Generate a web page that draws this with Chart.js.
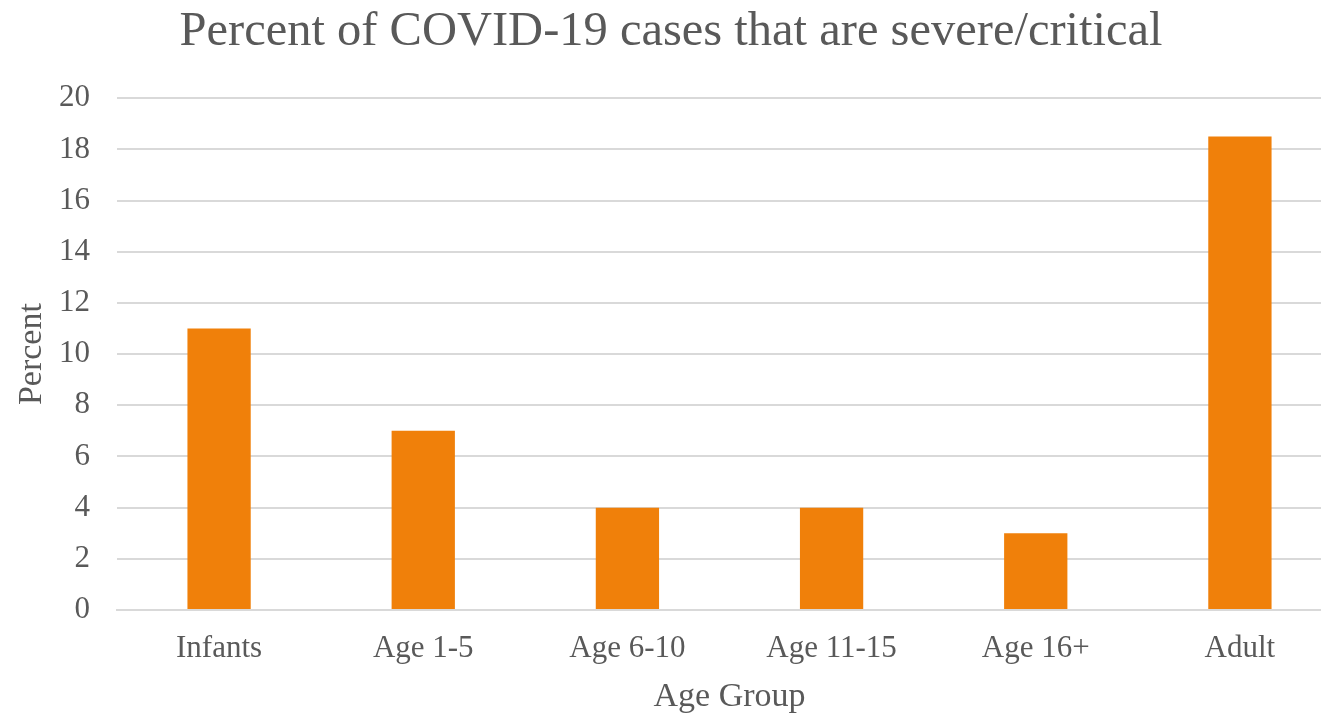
<!DOCTYPE html>
<html>
<head>
<meta charset="utf-8">
<script src="https://cdn.jsdelivr.net/npm/chart.js@4"></script>
<style>
  html, body { margin: 0; padding: 0; background: #fff; overflow: hidden; }
</style>
</head>
<body>
<canvas id="chart" width="1342" height="714"></canvas>
<script>
const ageGroups = ['Infants', 'Age 1-5', 'Age 6-10', 'Age 11-15', 'Age 16+', 'Adult'];
const severePercent = [11, 7, 4, 4, 3, 18.5];

const FONT = "'Liberation Serif', 'Times New Roman', serif";
const TEXT = '#595959';
const GRID = '#d9d9d9';

const ctx = document.getElementById('chart').getContext('2d');
new Chart(ctx, {
  type: 'bar',
  data: {
    labels: ageGroups,
    datasets: [{
      data: severePercent,
      backgroundColor: '#f0800a',
      barPercentage: 0.31,
      categoryPercentage: 1
    }]
  },
  options: {
    responsive: false,
    animation: false,
    layout: { padding: 0 },
    plugins: {
      legend: { display: false },
      tooltip: { enabled: false },
      title: {
        display: true,
        text: 'Percent of COVID-19 cases that are severe/critical',
        color: TEXT,
        font: { family: FONT, size: 48.5, weight: 'normal', lineHeight: 1.2 },
        padding: { top: 3, bottom: 37 }
      }
    },
    scales: {
      x: {
        grid: { display: false, drawTicks: false },
        border: { display: true, color: GRID, width: 2 },
        ticks: {
          color: TEXT,
          padding: 20,
          font: { family: FONT, size: 31 }
        },
        title: {
          display: true,
          text: 'Age Group',
          color: TEXT,
          font: { family: FONT, size: 34, lineHeight: 1 },
          padding: { top: 0, bottom: 0 }
        },
        // fixed axis height so the plot bottom sits where the original has it
        afterFit(scale) { scale.height = 104; }
      },
      y: {
        min: 0,
        max: 20,
        grid: { color: GRID, lineWidth: 2, drawTicks: false },
        border: { display: false },
        ticks: {
          stepSize: 2,
          color: TEXT,
          padding: 27,
          font: { family: FONT, size: 31 }
        },
        title: {
          display: true,
          text: 'Percent',
          color: TEXT,
          font: { family: FONT, size: 34, lineHeight: 1 },
          padding: { top: 15, bottom: 0 }
        },
        afterFit(scale) { scale.width = 117; }
      }
    }
  }
});
</script>
</body>
</html>
